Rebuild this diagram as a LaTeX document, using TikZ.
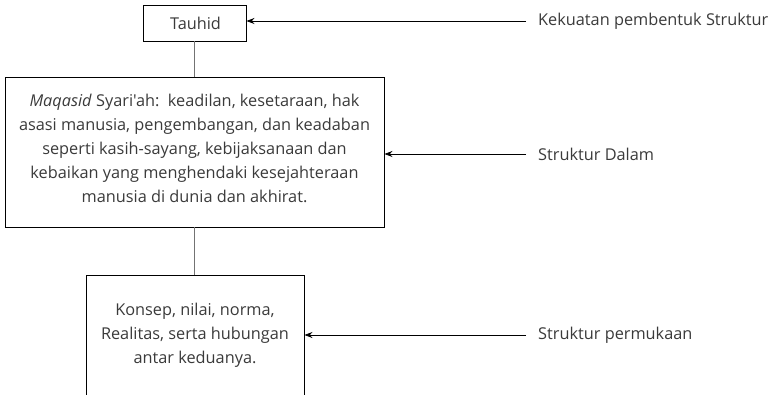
\documentclass[tikz,border=0pt]{standalone}
\usepackage{fontspec}
\newfontfamily\ofont{Open Sans}
\usetikzlibrary{arrows.meta}
\definecolor{txt}{HTML}{3A3A3A}
\begin{document}
\begin{tikzpicture}[x=1pt,y=-1pt,
  boxn/.style={draw=black,line width=0.9pt,inner sep=0pt},
  lbl/.style={anchor=west,inner sep=0pt,text=txt,font=\ofont\fontsize{16.3}{24}\selectfont},
  body/.style={align=center,inner sep=0pt,text=txt,font=\ofont\fontsize{16.3}{24}\selectfont},
  conn/.style={draw=black!55,line width=0.9pt},
  arr/.style={draw=black,line width=0.8pt,-{Stealth[length=8pt,width=6pt]}}]
\useasboundingbox (0,0) rectangle (773,395);
\clip (0,0) rectangle (773,395);
% boxes
\node[boxn,minimum width=103pt,minimum height=36pt] (tauhid) at (194.5,23) {};
\node[body] at (195.5,23) {Tauhid};
\node[boxn,minimum width=379pt,minimum height=150pt] (maq) at (194.5,152) {};
\node[body] (maqt) at (194.5,148) {\textit{Maqasid} Syari'ah:\ \ keadilan, kesetaraan, hak\\asasi manusia, pengembangan, dan keadaban\\seperti kasih-sayang, kebijaksanaan dan\\kebaikan yang menghendaki kesejahteraan\\manusia di dunia dan akhirat.};
\node[boxn,minimum width=218pt,minimum height=200pt,anchor=north] (kon) at (195,275) {};
\node[body] (kont) at (195,335) {Konsep, nilai, norma,\\Realitas, serta hubungan\\antar keduanya.};
% connectors
\draw[conn] (tauhid.south) -- (maq.north -| tauhid.south);
\draw[conn] (maq.south) -- (kon.north -| maq.south);
% labels
\node[lbl] (l1) at (538,21) {Kekuatan pembentuk Struktur};
\node[lbl] (l2) at (538,154) {Struktur Dalam};
\node[lbl] (l3) at (538,335) {Struktur permukaan};
\coordinate (c1) at (526,21);
\coordinate (c2) at (526,154);
\coordinate (c3) at (526,335);
\draw[arr] (c1) -- (tauhid.east |- c1);
\draw[arr] (c2) -- (maq.east |- c2);
\draw[arr] (c3) -- (kon.east |- c3);
\end{tikzpicture}
\end{document}
